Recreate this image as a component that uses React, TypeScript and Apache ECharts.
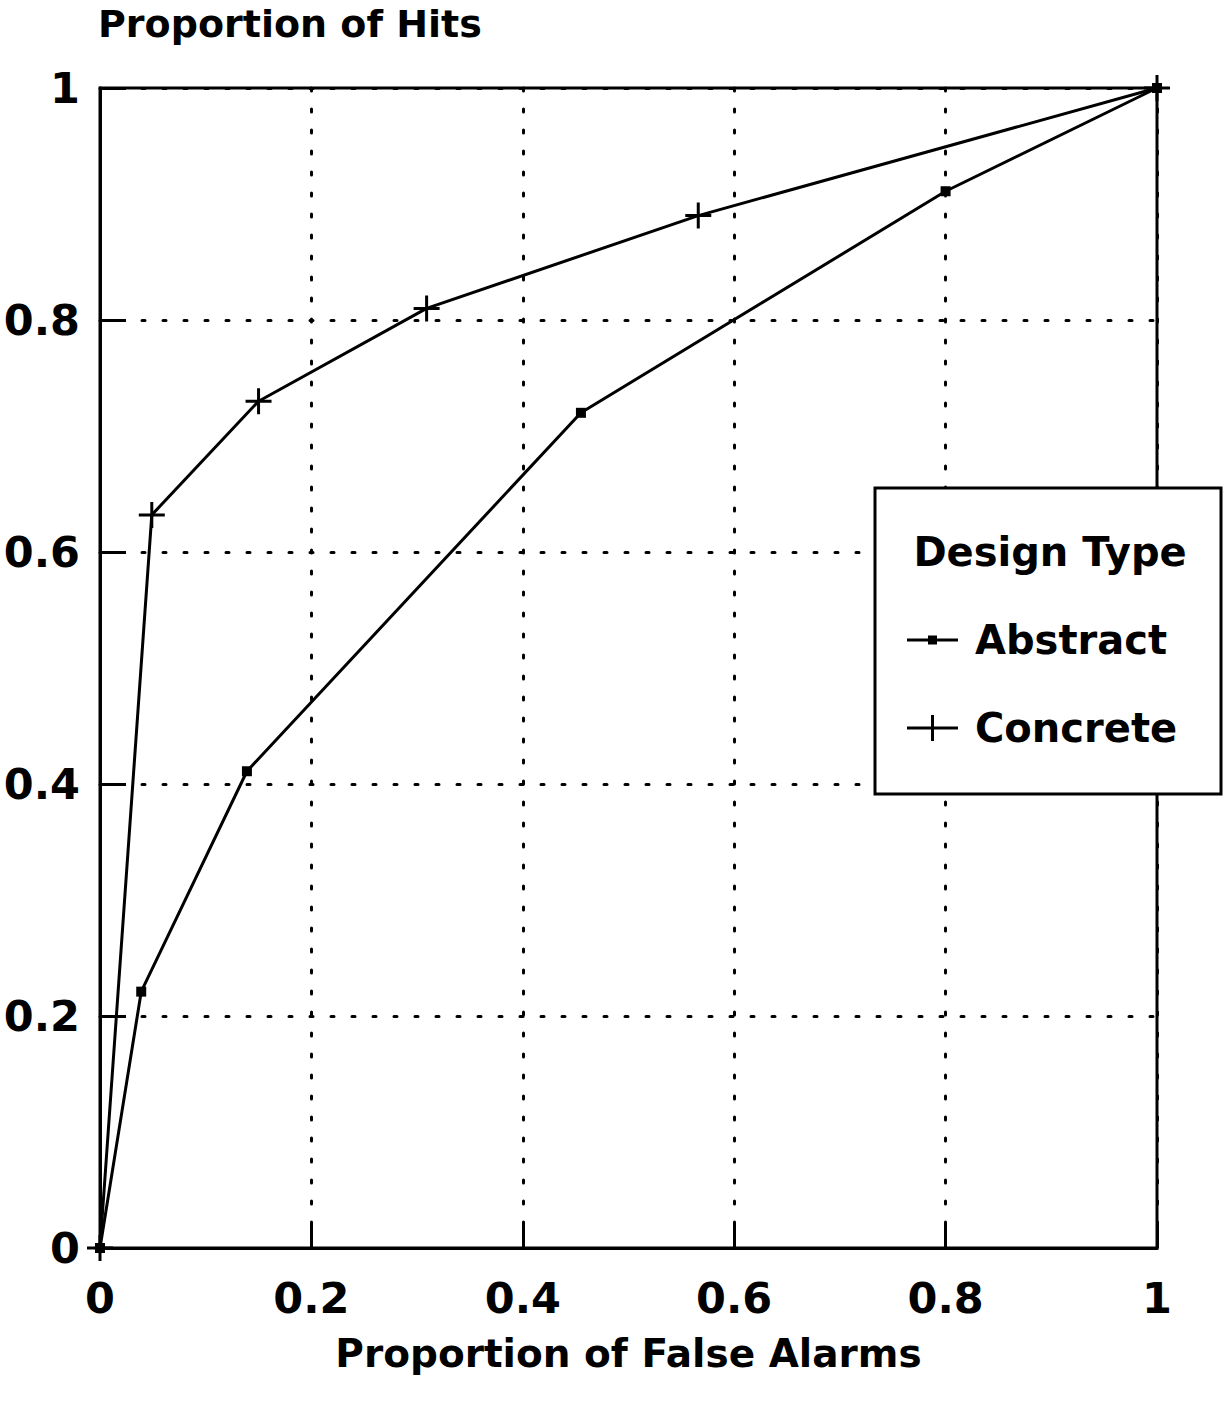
import React, { useEffect, useRef } from "react";
import * as echarts from "echarts";

const xTickLabels = ["0", "0.2", "0.4", "0.6", "0.8", "1"];
const yTickLabels = ["0", "0.2", "0.4", "0.6", "0.8", "1"];
const seriesNames = ["Abstract", "Concrete"];
const abstractFA = [0, 0.039, 0.139, 0.455, 0.8, 1];
const abstractHits = [0, 0.221, 0.411, 0.72, 0.911, 1];
const concreteFA = [0, 0.049, 0.15, 0.309, 0.566, 1];
const concreteHits = [0, 0.632, 0.73, 0.81, 0.89, 1];
const legendTitle = "Design Type";
const chartTitle = "Proportion of Hits";
const xAxisName = "Proportion of False Alarms";

const FONT = "DejaVu Sans";
const PLUS =
  "path://M0,11.5H11.5V0H14.5V11.5H26V14.5H14.5V26H11.5V14.5H0Z";
const LEG_ABS =
  "path://M0,0L0,0Z M63,26L63,26Z M0,11.5H21V8.5H30V11.5H51V14.5H30V17.5H21V14.5H0Z";
const LEG_CON =
  "path://M63,13L63,13Z M0,11.5H24V0H27V11.5H51V14.5H27V26H24V14.5H0Z";

export default function App() {
  const ref = useRef<HTMLDivElement>(null);
  useEffect(() => {
    document.body.style.margin = "0";
    const chart = echarts.init(ref.current!, null, { renderer: "svg" });
    const toPairs = (xs: number[], ys: number[]) => xs.map((x, i) => [x, ys[i]]);
    chart.setOption({
      animation: false,
      backgroundColor: "#fff",
      title: {
        text: chartTitle,
        left: 93,
        top: 0,
        textStyle: { fontFamily: FONT, fontWeight: "bold", fontSize: 38, color: "#000" },
      },
      grid: {
        left: 100,
        right: 67,
        top: 88,
        bottom: 160,
        show: true,
        borderColor: "#000",
        borderWidth: 3,
        backgroundColor: "transparent",
      },
      xAxis: {
        type: "value",
        min: 0,
        max: 1,
        interval: 0.2,
        name: xAxisName,
        nameLocation: "middle",
        nameGap: 86,
        nameTextStyle: { fontFamily: FONT, fontWeight: "bold", fontSize: 39, color: "#000" },
        axisLine: { show: true, lineStyle: { color: "#000", width: 3 } },
        axisTick: { show: true, inside: true, length: 24, lineStyle: { color: "#000", width: 3 } },
        axisLabel: {
          margin: 28,
          fontFamily: FONT,
          fontWeight: "bold",
          fontSize: 43,
          color: "#000",
          formatter: (_v: number, i: number) => xTickLabels[i],
        },
        splitLine: { show: true, lineStyle: { color: "#000", width: 3, type: [3, 18], cap: "round" } },
      },
      yAxis: {
        type: "value",
        min: 0,
        max: 1,
        interval: 0.2,
        axisLine: { show: true, lineStyle: { color: "#000", width: 3 } },
        axisTick: { show: true, inside: true, length: 26, lineStyle: { color: "#000", width: 3 } },
        axisLabel: {
          margin: 20,
          fontFamily: FONT,
          fontWeight: "bold",
          fontSize: 43,
          color: "#000",
          formatter: (_v: number, i: number) => yTickLabels[i],
        },
        splitLine: { show: true, lineStyle: { color: "#000", width: 3, type: [3, 18], cap: "round" } },
      },
      legend: {
        orient: "vertical",
        left: 907,
        top: 620,
        padding: 0,
        itemWidth: 63,
        itemHeight: 26,
        itemGap: 48,
        z: 20,
        itemStyle: { borderWidth: 0, color: "#000" },
        textStyle: { fontFamily: FONT, fontWeight: "bold", fontSize: 40, color: "#000" },
        data: [
          { name: seriesNames[0], icon: LEG_ABS },
          { name: seriesNames[1], icon: LEG_CON },
        ],
        selectedMode: false,
      },
      graphic: {
        z: 10,
        elements: [
          {
            type: "rect",
            z: 10,
            shape: { x: 875, y: 488, width: 346, height: 306 },
            style: { fill: "#fff", stroke: "#000", lineWidth: 3 },
          },
          {
            type: "text",
            z: 11,
            x: 1050,
            y: 552,
            style: {
              text: legendTitle,
              fontFamily: FONT,
              fontWeight: "bold",
              fontSize: 40,
              fill: "#000",
              textAlign: "center",
              textVerticalAlign: "middle",
            },
          },
        ],
      },
      series: [
        {
          name: seriesNames[0],
          type: "line",
          data: toPairs(abstractFA, abstractHits),
          symbol: "rect",
          symbolSize: 10,
          lineStyle: { color: "#000", width: 3 },
          itemStyle: { color: "#000", borderWidth: 0 },
          z: 3,
        },
        {
          name: seriesNames[1],
          type: "line",
          data: toPairs(concreteFA, concreteHits),
          symbol: PLUS,
          symbolSize: 26,
          lineStyle: { color: "#000", width: 3 },
          itemStyle: { color: "#000", borderWidth: 0 },
          z: 3,
        },
      ],
    });
    return () => chart.dispose();
  }, []);
  return <div ref={ref} style={{ width: 1224, height: 1408 }} />;
}
